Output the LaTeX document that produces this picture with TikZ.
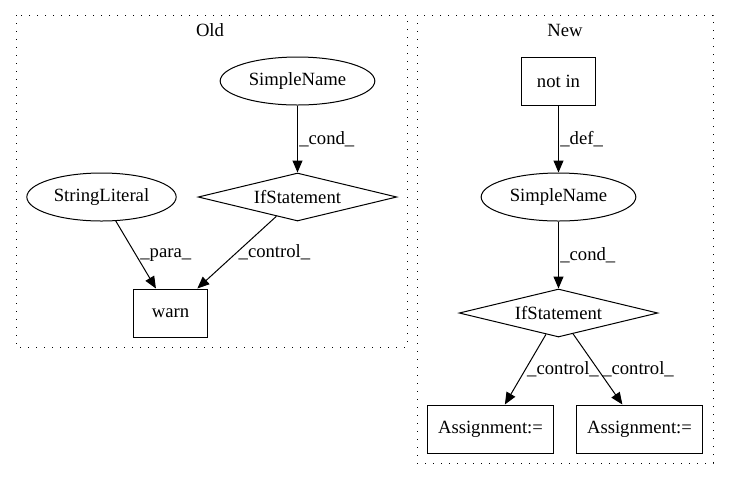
\documentclass[tikz,border=0pt]{standalone}
\usepackage{fontspec}
\setmainfont{Liberation Serif}
\usetikzlibrary{shapes.geometric,arrows.meta}
\begin{document}
\begin{tikzpicture}[x=0.75pt,y=-0.75pt,
  every node/.style={font=\fontsize{14}{16}\selectfont},
  cluster/.style={draw, line width=0.75pt, dash pattern=on 0.75pt off 5.25pt},
  ell/.style={draw, ellipse, line width=0.75pt, inner sep=0pt, minimum width=116pt, minimum height=36pt},
  dia/.style={draw, diamond, shape aspect=4, line width=0.75pt, inner sep=0pt, minimum width=149pt, minimum height=36pt},
  box/.style={draw, rectangle, line width=0.75pt, inner sep=0pt, minimum height=36pt},
  edge/.style={line width=0.75pt, -{Triangle[length=9pt,width=7.5pt]}},
  lbl/.style={midway, right, inner sep=1pt}
]
\useasboundingbox (0,0) rectangle (729,480);
% clusters
\draw[cluster] (16,15) rectangle (407,347);
\draw[cluster] (417,15) rectangle (713,463);
\node (oldlbl) at (210,30) {Old};
\node (newlbl) at (565,30) {New};
% Old
\node[ell] (osn) at (297.5,81) {SimpleName};
\node[dia] (oif) at (297.5,197) {IfStatement};
\node[ell, minimum width=112pt] (osl) at (101.5,197) {StringLiteral};
\node[box, minimum width=55pt] (warn) at (170.5,313) {warn};
\draw[edge] (osn) -- (oif) node[lbl] {\_cond\_};
\draw[edge] (osl) -- (warn) node[lbl, xshift=2pt] {\_para\_};
\draw[edge] (oif) -- (warn) node[lbl] {\_control\_};
% New
\node[box, minimum width=55pt] (notin) at (558.5,81) {not in};
\node[ell] (nsn) at (558.5,197) {SimpleName};
\node[dia] (nif) at (558.5,313) {IfStatement};
\node[box, minimum width=94pt] (as1) at (490.5,429) {Assignment:=};
\node[box, minimum width=94pt] (as2) at (639.5,429) {Assignment:=};
\draw[edge] (notin) -- (nsn) node[lbl] {\_def\_};
\draw[edge] (nsn) -- (nif) node[lbl] {\_cond\_};
\draw[edge] (nif) -- (as1) node[lbl] {\_control\_};
\draw[edge] (nif) -- (as2) node[lbl, xshift=2pt] {\_control\_};
\end{tikzpicture}
\end{document}
